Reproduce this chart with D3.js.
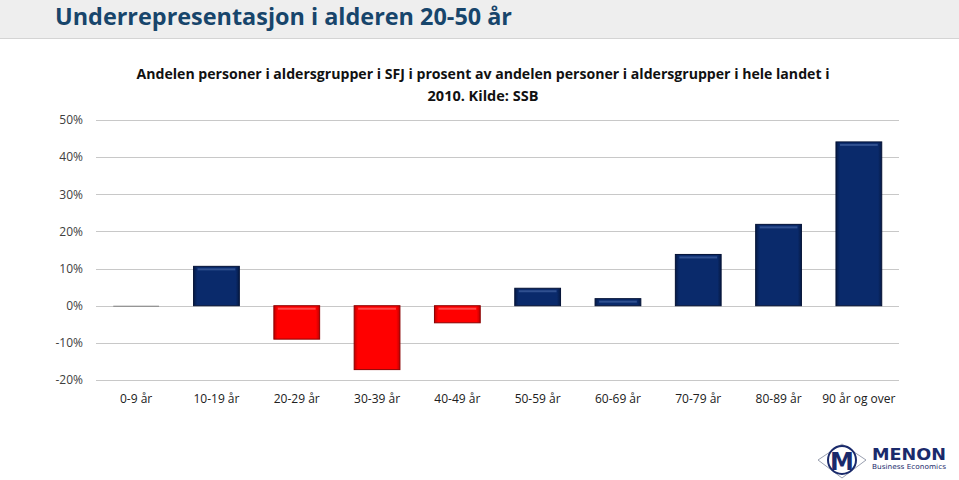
<!DOCTYPE html>
<html><head><meta charset="utf-8">
<script src="https://cdn.jsdelivr.net/npm/d3@7"></script>
<style>body{margin:0;background:#fff;}svg{display:block;}</style>
</head><body>
<svg id="c" width="959" height="480"></svg>
<script>
const categories = ["0-9 år","10-19 år","20-29 år","30-39 år","40-49 år","50-59 år","60-69 år","70-79 år","80-89 år","90 år og over"];
const values = [-0.1, 10.6, -9.0, -17.2, -4.6, 4.7, 1.9, 13.8, 21.9, 44.1];
const yTicks = [-20,-10,0,10,20,30,40,50];
const title = "Underrepresentasjon i alderen 20-50 år";
const subtitle = ["Andelen personer i aldersgrupper i SFJ i prosent av andelen personer i aldersgrupper i hele landet i","2010. Kilde: SSB"];

const data = categories.map((c,i)=>({cat:c, v:values[i]}));

const svg = d3.select("#c");
const defs = svg.append("defs");
function grad(id, c1, c2){
  const g = defs.append("linearGradient").attr("id", id).attr("x1",0).attr("x2",1).attr("y1",0).attr("y2",0);
  g.append("stop").attr("offset","0%").attr("stop-color",c2);
  g.append("stop").attr("offset","8%").attr("stop-color",c1);
  g.append("stop").attr("offset","92%").attr("stop-color",c1);
  g.append("stop").attr("offset","100%").attr("stop-color",c2);
}
grad("gBlue","#0a2a6b","#061a45");
grad("gRed","#ff0000","#c00000");

// header band
svg.append("rect").attr("x",0).attr("y",0).attr("width",959).attr("height",38).attr("fill","#eeeeee");
svg.append("line").attr("x1",0).attr("x2",959).attr("y1",38.5).attr("y2",38.5).attr("stroke","#d4d4d4");
svg.append("text").attr("x",55).attr("y",25).attr("fill","#17456b")
  .attr("font-family","'Open Sans', sans-serif").attr("font-weight","bold").attr("font-size",24)
  .attr("textLength",457).attr("lengthAdjust","spacingAndGlyphs").text(title);

const x = d3.scaleBand().domain(categories).range([96,899]).paddingInner(0.43).paddingOuter(0.215);
const y = d3.scaleLinear().domain([-20,50]).range([380,120]);

// grid
svg.append("g").selectAll("line").data(yTicks).join("line")
  .attr("x1",96).attr("x2",899).attr("y1",d=>Math.round(y(d))+0.5).attr("y2",d=>Math.round(y(d))+0.5)
  .attr("stroke","#c8c8c8").attr("stroke-width",1.2);

const yAxis = d3.axisLeft(y).tickValues(yTicks).tickFormat(d=>d+"%").tickSize(0).tickPadding(13);
const ga = svg.append("g").attr("transform","translate(96,0)").call(yAxis);
ga.select(".domain").remove();
ga.selectAll("text").attr("font-family","'Open Sans', sans-serif").attr("font-size",12).attr("fill","#404040");

// bars
const bars = svg.append("g").selectAll("g").data(data).join("g");
bars.append("rect")
  .attr("x",d=>x(d.cat))
  .attr("width",x.bandwidth())
  .attr("y",d=>y(Math.max(0,d.v)))
  .attr("height",d=>Math.max(1,Math.abs(y(d.v)-y(0))))
  .attr("fill",d=> Math.abs(d.v)<0.5 ? "#808080" : (d.v>0?"url(#gBlue)":"url(#gRed)"))
  .attr("stroke",d=> Math.abs(d.v)<0.5 ? "none" : (d.v>0?"#041236":"#8b0000"))
  .attr("stroke-width",1);
// highlight bevel
bars.filter(d=>Math.abs(d.v)>=1).append("rect")
  .attr("x",d=>x(d.cat)+4)
  .attr("width",x.bandwidth()-8)
  .attr("y",d=>y(Math.max(0,d.v))+2)
  .attr("height",2)
  .attr("fill",d=>d.v>0?"#3a5a9a":"#ff5a5a").attr("opacity",0.8);

// x labels
svg.append("g").selectAll("text").data(categories).join("text")
  .attr("x",d=>x(d)+x.bandwidth()/2).attr("y",403).attr("text-anchor","middle")
  .attr("font-family","'Open Sans', sans-serif").attr("font-size",12).attr("fill","#202020")
  .text(d=>d);

// subtitle
svg.append("g").selectAll("text").data(subtitle).join("text")
  .attr("x",483).attr("y",(d,i)=>79+i*22).attr("text-anchor","middle")
  .attr("font-family","'Open Sans', sans-serif").attr("font-weight","bold").attr("font-size",14.5)
  .attr("fill","#111")
  .each(function(d,i){ if(i===0) d3.select(this).attr("textLength",693).attr("lengthAdjust","spacingAndGlyphs"); })
  .text(d=>d);

// logo
const lg = svg.append("g").attr("transform","translate(818,444)");
lg.append("path").attr("d","M0,16 L24,0 L48,16 L24,34 Z").attr("fill","none").attr("stroke","#9aa0b0").attr("stroke-width",1);
lg.append("circle").attr("cx",24).attr("cy",16).attr("r",14).attr("fill","none").attr("stroke","#1a2a6b").attr("stroke-width",2);
lg.append("text").attr("x",24).attr("y",26).attr("text-anchor","middle").attr("font-family","'DejaVu Sans', sans-serif")
  .attr("font-weight","bold").attr("font-size",24).attr("fill","#1a2a6b").text("M");
svg.append("text").attr("x",872).attr("y",460).attr("font-family","'DejaVu Sans', sans-serif").attr("font-weight","bold")
  .attr("font-size",15).attr("fill","#1a2a6b").attr("textLength",74).attr("lengthAdjust","spacingAndGlyphs").text("MENON");
svg.append("text").attr("x",872).attr("y",469).attr("font-family","'DejaVu Sans', sans-serif")
  .attr("font-size",7).attr("fill","#1a2a6b").attr("textLength",74).attr("lengthAdjust","spacingAndGlyphs").text("Business Economics");
</script>
</body></html>
